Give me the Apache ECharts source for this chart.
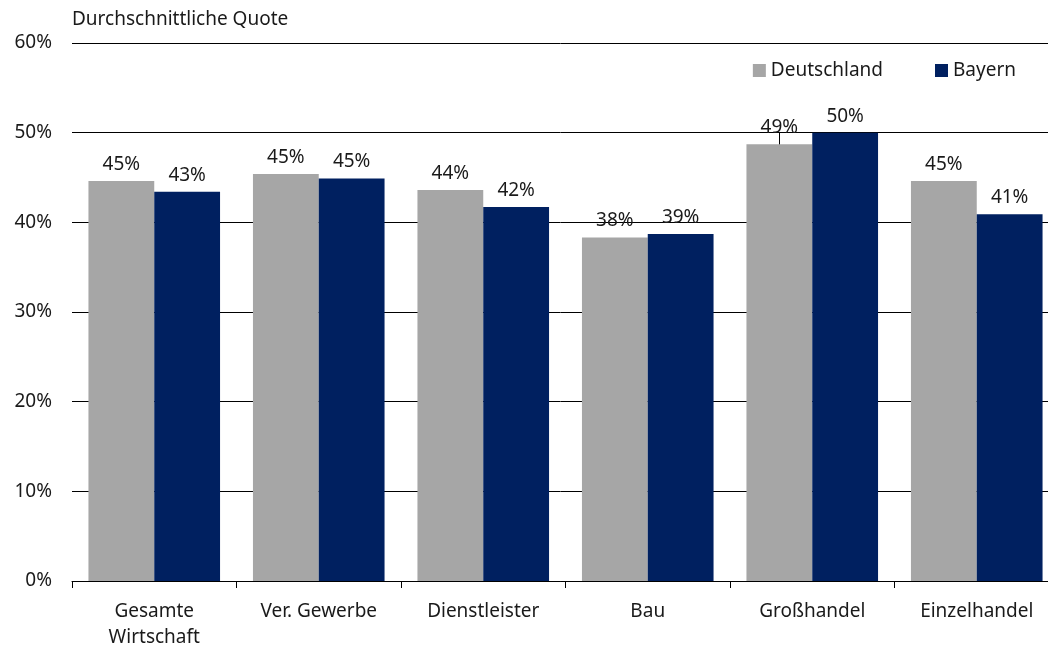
<!DOCTYPE html>
<html>
<head>
<meta charset="utf-8">
<script src="https://cdn.jsdelivr.net/npm/echarts@6/dist/echarts.min.js"></script>
<style>
html,body{margin:0;padding:0;background:#fff;overflow:hidden;}
#main{width:1048px;height:646px;}
</style>
</head>
<body>
<div id="main"></div>
<script>
const categories = ['Gesamte\nWirtschaft', 'Ver. Gewerbe', 'Dienstleister', 'Bau', 'Großhandel', 'Einzelhandel'];
const deutschland = [44.6, 45.4, 43.6, 38.3, 48.7, 44.6];
const bayern = [43.4, 44.9, 41.7, 38.7, 50.0, 40.9];
const yTicks = [0, 10, 20, 30, 40, 50, 60];
// small vertical connector seen above the Deutschland bar in "Großhandel": [categoryIndex, from, to]
const connector = [[4, 48.7, 50.0]];

const FONT = 'Noto Sans';
const FS = 19;
const chart = echarts.init(document.getElementById('main'), null, {renderer: 'canvas', width: 1048, height: 646});
const labelCfg = {
  show: true, position: 'top', distance: 7,
  formatter: p => Math.round(p.value) + '%',
  color: '#1a1a1a', fontFamily: FONT, fontSize: FS
};
chart.setOption({
  animation: false,
  backgroundColor: '#fff',
  textStyle: {fontFamily: FONT},
  title: {
    text: 'Durchschnittliche Quote', left: 67, top: 5,
    textStyle: {fontFamily: FONT, fontSize: FS, fontWeight: 'normal', color: '#1a1a1a'}
  },
  legend: {
    right: 27, top: 56, itemWidth: 13, itemHeight: 13, itemGap: 52,
    icon: 'rect',
    textStyle: {fontFamily: FONT, fontSize: FS, color: '#1a1a1a'},
    data: ['Deutschland', 'Bayern']
  },
  grid: {left: 72, top: 43, width: 987, height: 538, containLabel: false, outerBoundsMode: 'none'},
  xAxis: {
    type: 'category', data: categories,
    axisLine: {lineStyle: {color: '#000', width: 1}},
    axisTick: {show: true, length: 7, lineStyle: {color: '#000'}},
    axisLabel: {fontFamily: FONT, fontSize: FS, color: '#1a1a1a', margin: 18, lineHeight: 26}
  },
  yAxis: {
    type: 'value', min: yTicks[0], max: yTicks[yTicks.length - 1], interval: 10,
    axisLine: {show: false}, axisTick: {show: false},
    axisLabel: {formatter: v => v + '%', fontFamily: FONT, fontSize: FS, color: '#1a1a1a', margin: 20},
    splitLine: {lineStyle: {color: '#000', width: 1}}
  },
  series: [
    {name: 'Deutschland', type: 'bar', data: deutschland, barGap: '0%', barCategoryGap: '20%',
     itemStyle: {color: '#a6a6a6'}, label: labelCfg},
    {name: 'Bayern', type: 'bar', data: bayern,
     itemStyle: {color: '#002060'}, label: labelCfg},
    {type: 'custom', silent: true, data: connector, z: 3,
     renderItem: (params, api) => {
       const catW = api.size([1, 0])[0];
       const p1 = api.coord([api.value(0), api.value(1)]);
       const p2 = api.coord([api.value(0), api.value(2)]);
       const x = Math.round(p1[0] - catW * 0.2) + 0.5;
       return {type: 'line', shape: {x1: x, y1: p1[1], x2: x, y2: p2[1]},
               style: {stroke: '#000', lineWidth: 1}};
     }}
  ]
});
</script>
</body>
</html>
